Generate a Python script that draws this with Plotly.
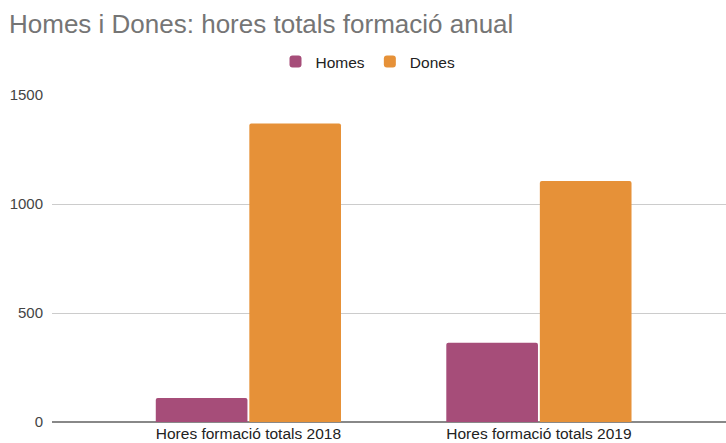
import plotly.graph_objects as go

categories = ["Hores formació totals 2018", "Hores formació totals 2019"]
homes = [110, 363]
dones = [1369, 1105]
y_ticks = [0, 500, 1000, 1500]

W, H = 726, 443
FONT = "Liberation Sans, Arial, sans-serif"

fig = go.Figure()
fig.add_trace(go.Bar(name="Homes", x=[0, 1], y=homes, marker_color="#A64D79",
                     marker_line_width=0))
fig.add_trace(go.Bar(name="Dones", x=[0, 1], y=dones, marker_color="#E69138",
                     marker_line_width=0))

fig.update_layout(
    width=W, height=H,
    margin=dict(l=52, r=0, t=95, b=21, autoexpand=False),
    paper_bgcolor="white", plot_bgcolor="white",
    barmode="group", bargap=0.356, bargroupgap=0.02, barcornerradius=2,
    font=dict(family=FONT, size=15, color="#222222"),
    title=dict(text="Homes i Dones: hores totals formació anual",
               x=9 / W, xanchor="left", xref="container",
               y=1 - 24 / H, yanchor="middle", yref="container",
               font=dict(family=FONT, size=26, color="#757575")),
    legend=dict(orientation="h", xref="container", yref="container",
                x=368 / W, xanchor="center", y=1 - 62 / H, yanchor="middle",
                font=dict(family=FONT, size=15.5, color="#222222"),
                itemwidth=30, tracegroupgap=0),
    showlegend=True,
)
fig.update_xaxes(range=[-0.676, 1.644], tickvals=[0, 1], ticktext=categories,
                 showgrid=False, zeroline=False, showline=False, ticks="",
                 ticklabelstandoff=0,
                 tickfont=dict(family=FONT, size=15.5, color="#222222"),
                 fixedrange=True)
fig.update_yaxes(range=[0, 1500], tickvals=y_ticks,
                 showgrid=True, gridcolor="#cccccc", gridwidth=1,
                 zeroline=True, zerolinecolor="#888888", zerolinewidth=2,
                 showline=False, ticks="", ticklabelstandoff=8,
                 tickfont=dict(family=FONT, size=15, color="#444444"),
                 fixedrange=True)

fig.write_html("out.html")
